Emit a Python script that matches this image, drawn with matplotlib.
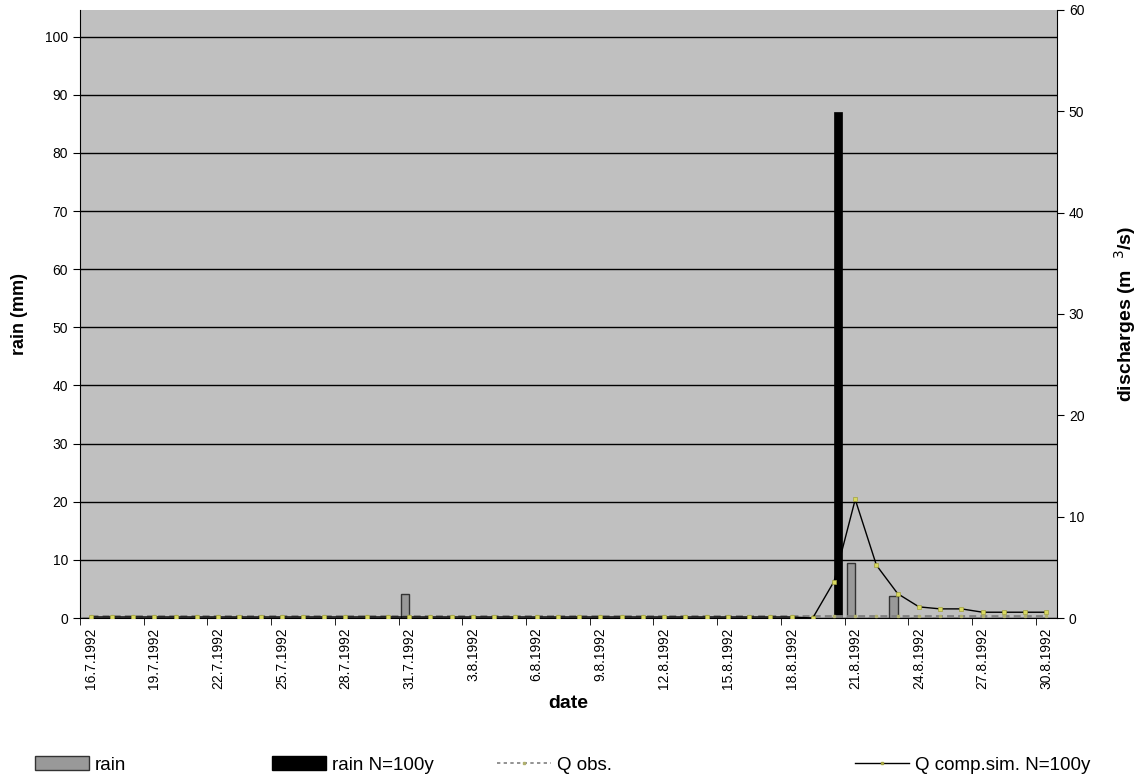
import matplotlib
matplotlib.use("Agg")
import matplotlib.pyplot as plt
from matplotlib.patches import Patch
from matplotlib.lines import Line2D
import numpy as np
import datetime as dt

plt.rcParams['font.family'] = ['Liberation Sans', 'DejaVu Sans']

# ---- data ----
start = dt.date(1992, 7, 16)
dates = [start + dt.timedelta(days=i) for i in range(46)]
date_labels = [f"{d.day}.{d.month}.{d.year}" for d in dates]

rain = [0.0] * 46
rain[15] = 4.2    # 31.7.1992
rain[36] = 9.4    # 21.8.1992
rain[38] = 3.7    # 23.8.1992

rain_n100 = [0.0] * 46
rain_n100[35] = 87.0  # 20.8.1992

q_obs = [0.2] * 46

q_sim = [0.1] * 34 + [0.0, 3.6, 11.7, 5.2, 2.4, 1.1, 0.9, 0.9, 0.57, 0.57, 0.57, 0.57]

legend_labels = ["rain", "rain N=100y", "Q obs.", "Q comp.sim. N=100y"]

# ---- figure ----
fig = plt.figure(figsize=(11.41, 7.83), dpi=100)
ax = fig.add_axes([80/1141, 1 - 618/783, (1057-80)/1141, (618-10)/783])
ax.set_facecolor("#C0C0C0")
x = np.arange(len(dates))
w = 0.4
ax.bar(x - w/2, rain, width=w, color="#999999", edgecolor="#333333", linewidth=1.0, zorder=3)
ax.bar(x + w/2, rain_n100, width=w, color="black", edgecolor="black", linewidth=0.5, zorder=3)
ax.set_xlim(-0.5, len(dates) - 0.5)
ax.set_ylim(0, 104.6)
ax.set_yticks(np.arange(0, 101, 10))
ax.yaxis.grid(True, color="black", linewidth=1.0, zorder=1)
ax.set_axisbelow(True)
ax.set_xticks(x[::3])
ax.set_xticklabels(date_labels[::3], rotation=90, fontsize=10)
ax.set_xticks(np.arange(-0.5, len(dates), 3), minor=True)
ax.tick_params(axis="x", which="major", length=0, pad=7)
ax.tick_params(axis="x", which="minor", length=5, direction="out", color="black")
ax.tick_params(axis="y", length=5, direction="out", labelsize=10)
for s in ["top", "right"]:
    ax.spines[s].set_visible(False)
ax.set_ylabel("rain (mm)", fontsize=13, fontweight="bold", labelpad=12)
ax.set_xlabel("date", fontsize=14, fontweight="bold", labelpad=4)

ax2 = ax.twinx()
ax2.patch.set_visible(False)
ax2.plot(x, q_obs, color="#808080", linestyle=(0, (2.5, 1.5)), linewidth=2.0,
         marker="s", markersize=2, markerfacecolor="#B0B070", markeredgecolor="#B0B070", zorder=4)
ax2.plot(x, q_sim, color="black", linewidth=1.0, marker="s", markersize=2.2,
         markerfacecolor="#D8D860", markeredgecolor="#A0A040", markeredgewidth=0.5, zorder=5)
ax2.set_ylim(0, 60)
ax2.set_yticks(np.arange(0, 61, 10))
ax2.tick_params(axis="y", length=5, direction="out", labelsize=10)
for s in ["top", "left", "bottom"]:
    ax2.spines[s].set_visible(False)
ax2.set_ylabel("discharges (m  $^{3}$/s)", fontsize=14, fontweight="bold", labelpad=20)

handles = [
    Patch(facecolor="#999999", edgecolor="#333333", linewidth=1.0),
    Patch(facecolor="black", edgecolor="black"),
    Line2D([], [], color="#808080", linestyle=(0, (2, 2)), linewidth=1.2,
           marker="s", markersize=2, markevery=[1], markerfacecolor="#B0B070", markeredgecolor="#B0B070"),
    Line2D([], [], color="black", linewidth=1.0, marker="s", markersize=2,
           markerfacecolor="#D8D860", markeredgecolor="#A0A040"),
]
starts = [35, 272, 497, 855]
for h, lab, xs in zip(handles, legend_labels, starts):
    fig.legend([h], [lab], loc="center left", bbox_to_anchor=(xs/1141, 1 - 765/783),
               frameon=False, fontsize=13.5, handlelength=2.9, handleheight=0.75,
               handletextpad=0.3, borderpad=0, borderaxespad=0)

fig.savefig("out.png", dpi=100)
